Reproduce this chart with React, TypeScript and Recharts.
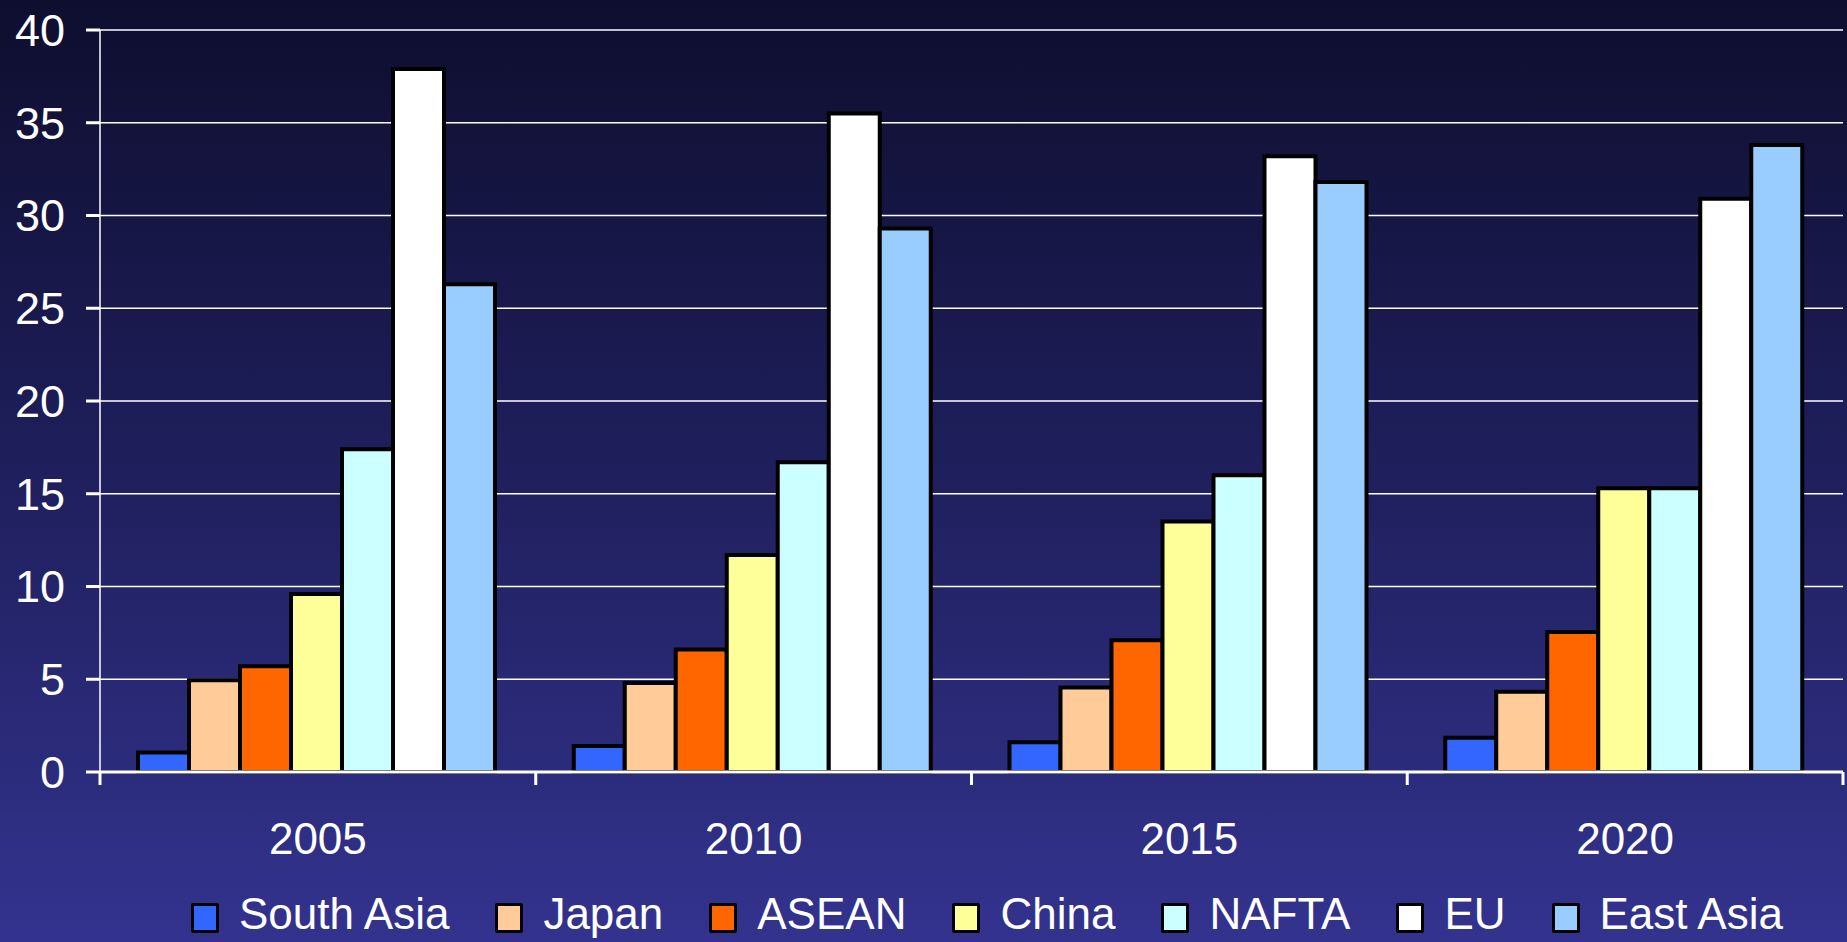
import { Bar, BarChart, CartesianGrid, Legend, XAxis, YAxis } from "recharts";

const years = ["2005", "2010", "2015", "2020"];
const southAsia = [1.05, 1.4, 1.6, 1.85];
const japan = [4.95, 4.8, 4.55, 4.33];
const asean = [5.7, 6.6, 7.1, 7.55];
const china = [9.6, 11.7, 13.5, 15.3];
const nafta = [17.4, 16.7, 16.0, 15.3];
const eu = [37.9, 35.5, 33.2, 30.9];
const eastAsia = [26.3, 29.3, 31.8, 33.8];
const yTicks = [0, 5, 10, 15, 20, 25, 30, 35, 40];
const edgeTicks = [0, 1, 2, 3, 4];

const series = [
  { key: "southAsia", name: "South Asia", values: southAsia, color: "#3366ff" },
  { key: "japan", name: "Japan", values: japan, color: "#ffcc99" },
  { key: "asean", name: "ASEAN", values: asean, color: "#ff6600" },
  { key: "china", name: "China", values: china, color: "#ffff99" },
  { key: "nafta", name: "NAFTA", values: nafta, color: "#ccffff" },
  { key: "eu", name: "EU", values: eu, color: "#ffffff" },
  { key: "eastAsia", name: "East Asia", values: eastAsia, color: "#99ccff" },
];

const data = years.map((year, i) => {
  const row: Record<string, string | number> = { year, idx: i };
  series.forEach((s) => {
    row[s.key] = s.values[i];
  });
  return row;
});

const font = "'Liberation Sans', Arial, sans-serif";

// boundary tick: short downward line at each category edge
function EdgeTick(props: any) {
  const { x, y } = props;
  return <line x1={x} y1={y - 13} x2={x} y2={y} stroke="#ffffff" strokeWidth={3} />;
}

function LegendRow() {
  return (
    <div
      style={{
        display: "flex",
        alignItems: "center",
        height: 56,
        paddingLeft: 191,
        fontFamily: font,
        fontSize: 44,
        color: "#fff",
        whiteSpace: "nowrap",
      }}
    >
      {series.map((s, i) => (
        <div key={s.key} style={{ display: "flex", alignItems: "center", marginLeft: i === 0 ? 0 : 46 }}>
          <span
            style={{
              display: "inline-block",
              width: 22,
              height: 24,
              background: s.color,
              border: "3px solid #000",
              borderRadius: 2,
              marginRight: 20,
              marginTop: 8,
            }}
          />
          <span style={{ lineHeight: "56px" }}>{s.name}</span>
        </div>
      ))}
    </div>
  );
}

export default function App() {
  return (
    <div
      style={{
        position: "absolute",
        top: 0,
        left: 0,
        width: 1847,
        height: 942,
        background: "linear-gradient(to bottom, #0e0e2f 0%, #1d1d58 45%, #33338f 100%)",
      }}
    >
      <BarChart
        width={1847}
        height={942}
        data={data}
        margin={{ top: 30, right: 4, left: 0, bottom: 0 }}
        barCategoryGap={38}
        barGap={0}
      >
        <CartesianGrid vertical={false} stroke="#ffffff" strokeWidth={1.5} />
        <XAxis
          xAxisId="a"
          dataKey="idx"
          type="number"
          domain={[0, 4]}
          ticks={edgeTicks}
          interval={0}
          allowDataOverflow
          height={1}
          tickSize={13}
          tickMargin={0}
          tick={<EdgeTick />}
          tickLine={false}
          axisLine={{ stroke: "#ffffff", strokeWidth: 3 }}
        />
        <XAxis
          xAxisId="b"
          dataKey="year"
          height={113}
          axisLine={false}
          tickLine={false}
          tickMargin={44}
          tick={{ fill: "#ffffff", fontSize: 44, fontFamily: font }}
        />
        <YAxis
          width={100}
          domain={[0, 40]}
          ticks={yTicks}
          interval={0}
          tickSize={14}
          tickMargin={21}
          tick={{ fill: "#ffffff", fontSize: 45, fontFamily: font }}
          tickLine={{ stroke: "#ffffff", strokeWidth: 3 }}
          axisLine={{ stroke: "#ffffff", strokeWidth: 1.5 }}
        />
        <Legend verticalAlign="bottom" content={() => <LegendRow />} wrapperStyle={{ left: 0, width: 1847 }} />
        {series.map((s) => (
          <Bar
            key={s.key}
            xAxisId="b"
            dataKey={s.key}
            name={s.name}
            fill={s.color}
            stroke="#000000"
            strokeWidth={4}
            isAnimationActive={false}
          />
        ))}
      </BarChart>
    </div>
  );
}
